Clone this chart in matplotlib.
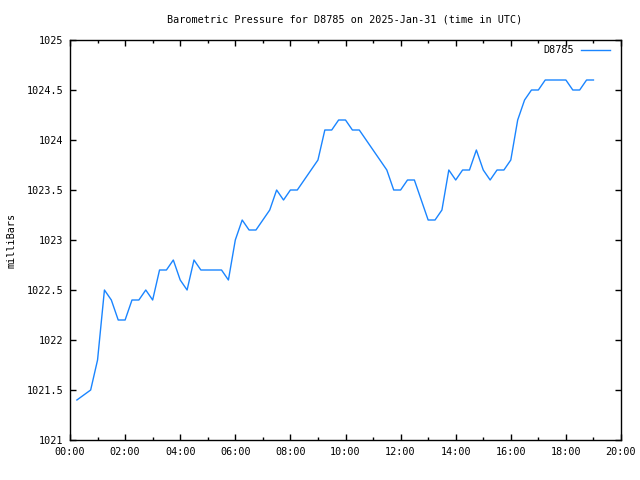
import matplotlib
matplotlib.use("Agg")
import matplotlib.pyplot as plt
from matplotlib.ticker import MultipleLocator, FuncFormatter

# time of each sample in hours (UTC), every 15 min from 00:45, plus 00:15
hours = [0.25] + [0.75 + 0.25 * i for i in range(74)]
pressure = [
    1021.4, 1021.5, 1021.8, 1022.5, 1022.4, 1022.2, 1022.2, 1022.4, 1022.4, 1022.5,
    1022.4, 1022.7, 1022.7, 1022.8, 1022.6, 1022.5, 1022.8, 1022.7, 1022.7, 1022.7,
    1022.7, 1022.6, 1023.0, 1023.2, 1023.1, 1023.1, 1023.2, 1023.3, 1023.5, 1023.4,
    1023.5, 1023.5, 1023.6, 1023.7, 1023.8, 1024.1, 1024.1, 1024.2, 1024.2, 1024.1,
    1024.1, 1024.0, 1023.9, 1023.8, 1023.7, 1023.5, 1023.5, 1023.6, 1023.6, 1023.4,
    1023.2, 1023.2, 1023.3, 1023.7, 1023.6, 1023.7, 1023.7, 1023.9, 1023.7, 1023.6,
    1023.7, 1023.7, 1023.8, 1024.2, 1024.4, 1024.5, 1024.5, 1024.6, 1024.6, 1024.6,
    1024.6, 1024.5, 1024.5, 1024.6, 1024.6,
]
station = "D8785"
title = "Barometric Pressure for D8785 on 2025-Jan-31 (time in UTC)"
ylabel = "milliBars"

FONT = "DejaVu Sans Mono"
FS = 7.3

fig = plt.figure(figsize=(6.4, 4.8), dpi=100)
ax = fig.add_axes([70 / 640, 40 / 480, (621 - 70) / 640, (440 - 40) / 480])

ax.plot(hours, pressure, color="#1a85ff", linewidth=1.0, label=station)

ax.set_xlim(0, 20)
ax.set_ylim(1021, 1025)
ax.xaxis.set_major_locator(MultipleLocator(2))
ax.xaxis.set_minor_locator(MultipleLocator(1))
ax.yaxis.set_major_locator(MultipleLocator(0.5))
ax.xaxis.set_major_formatter(FuncFormatter(lambda v, p: "%02d:00" % int(round(v))))
ax.yaxis.set_major_formatter(FuncFormatter(lambda v, p: ("%g" % v)))

ax.tick_params(axis="both", which="both", direction="in", top=True, right=True,
               colors="black", labelsize=FS)
ax.tick_params(which="major", length=4.5, width=1)
ax.tick_params(which="minor", length=2.5, width=1)
ax.tick_params(axis="x", pad=5)
ax.tick_params(axis="y", pad=5)
for lab in ax.get_xticklabels() + ax.get_yticklabels():
    lab.set_fontfamily(FONT)
for s in ax.spines.values():
    s.set_linewidth(1)
    s.set_color("black")

fig.text(345 / 640, 1 - 19 / 480, title, ha="center", va="center",
         fontsize=FS, family=FONT)
fig.text(12 / 640, 0.5, ylabel, rotation=90, ha="center", va="center",
         fontsize=FS, family=FONT)

leg = ax.legend(loc="upper right", frameon=False, prop={"family": FONT, "size": FS},
                markerfirst=False, handlelength=2.85, handletextpad=0.7,
                borderaxespad=0.3, bbox_to_anchor=(0.993, 1.005))

fig.savefig("out.png", dpi=100)
